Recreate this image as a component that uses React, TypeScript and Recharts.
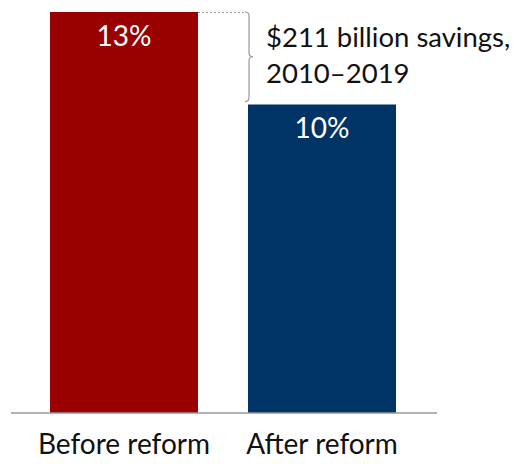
import { BarChart, Bar, XAxis, YAxis, LabelList, Cell } from 'recharts';

const categories = ['Before reform', 'After reform'];
const shares = [13, 10];
const barColors = ['#990000', '#003366'];
const savingsNote = ['$211 billion savings,', '2010\u20132019'];

const data = categories.map((name, i) => ({ name, share: shares[i] }));

const FONT = 'Lato, "Noto Sans", sans-serif';

// brace + dotted leader drawn off the first bar's geometry
const SavingsBrace = (props: any) => {
  const { x, y, width, height, value, index } = props;
  if (index !== 0) return null;
  const unit = height / value;
  const baseline = y + height;
  const top = y;
  const bottom = baseline - shares[1] * unit - 3;
  const right = x + width;
  const bx = right + 51;
  const mid = (top + bottom) / 2;
  const r = 4;
  const path = `M ${bx - r} ${top} Q ${bx} ${top} ${bx} ${top + r} L ${bx} ${mid - r} Q ${bx} ${mid} ${bx + r} ${mid} Q ${bx} ${mid} ${bx} ${mid + r} L ${bx} ${bottom - r} Q ${bx} ${bottom} ${bx - r} ${bottom}`;
  return (
    <g>
      <line x1={right} y1={top + 0.5} x2={bx - r} y2={top + 0.5} stroke="#999" strokeDasharray="2 2" />
      <path d={path} fill="none" stroke="#999" strokeWidth={1.2} />
      <text x={bx + 17} y={top + 35} fontSize={27.5} fontFamily={FONT} fill="#111">
        {savingsNote[0]}
      </text>
      <text x={bx + 17} y={top + 71} fontSize={27.5} fontFamily={FONT} fill="#111">
        {savingsNote[1]}
      </text>
    </g>
  );
};

export default function App() {
  return (
    <div style={{ position: 'absolute', left: 0, top: 0 }}>
      <BarChart
        width={514}
        height={464}
        data={data}
        margin={{ top: 12, right: 77, left: 11, bottom: 0 }}
      >
        <XAxis
          dataKey="name"
          height={51}
          padding={{ left: 14, right: 16 }}
          axisLine={{ stroke: '#999', strokeWidth: 1.5 }}
          tickLine={false}
          tickMargin={15}
          tick={{ fill: '#111', fontSize: 28, fontFamily: FONT }}
          interval={0}
        />
        <YAxis hide domain={[0, 13]} />
        <Bar dataKey="share" barSize={148} isAnimationActive={false}>
          {data.map((d, i) => (
            <Cell key={d.name} fill={barColors[i]} />
          ))}
          <LabelList
            dataKey="share"
            position="insideTop"
            offset={14}
            formatter={(v: any) => `${v}%`}
            fill="#fff"
            fontSize={28}
            fontFamily={FONT}
          />
          <LabelList dataKey="share" content={SavingsBrace} />
        </Bar>
      </BarChart>
    </div>
  );
}
